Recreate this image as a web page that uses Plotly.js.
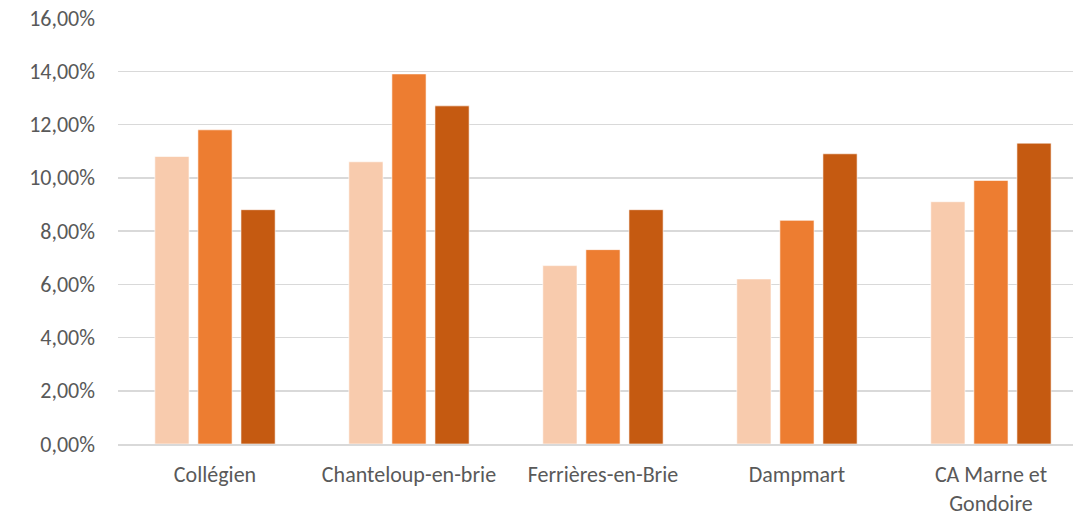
<!DOCTYPE html>
<html><head><meta charset="utf-8">
<script src="https://cdn.plot.ly/plotly-3.0.1.min.js"></script>
<style>body{margin:0;background:#fff}#c{width:1073px;height:515px}</style>
</head><body><div id="c"></div>
<script>
const categories = ["Collégien", "Chanteloup-en-brie", "Ferrières-en-Brie", "Dampmart", "CA Marne et<br>Gondoire"];
const series1 = [0.108, 0.106, 0.067, 0.062, 0.091];
const series2 = [0.118, 0.139, 0.073, 0.084, 0.099];
const series3 = [0.088, 0.127, 0.088, 0.109, 0.113];
const tickVals = [0, 0.02, 0.04, 0.06, 0.08, 0.10, 0.12, 0.14, 0.16];

const colors = ["#F8CBAD", "#ED7D31", "#C55A11"];
const data = [series1, series2, series3].map((v, i) => ({
  type: "bar", x: categories, y: v, name: "Série " + (i + 1),
  marker: {color: colors[i], line: {color: "rgba(255,255,255,0.6)", width: 1}},
  hoverinfo: "skip"
}));
const font = {family: "Carlito, 'Open Sans', 'Liberation Sans', sans-serif", size: 22, color: "#595959"};
Plotly.newPlot("c", data, {
  width: 1073, height: 515,
  margin: {l: 117.5, r: 0, t: 18, b: 70.5},
  paper_bgcolor: "#fff", plot_bgcolor: "#fff",
  showlegend: false, barmode: "group", bargap: 0.334, bargroupgap: 0.206,
  separators: ",.",
  font: font,
  xaxis: {range: [-0.5, 4.423], showgrid: false, showline: true, linecolor: "#D9D9D9", linewidth: 1.5, ticks: "",
          tickfont: font, ticklabelstandoff: 10, automargin: false},
  yaxis: {range: [0, 0.16], tickvals: tickVals, tickformat: ".2%", showgrid: true, gridcolor: "#D9D9D9", gridwidth: 1.5,
          zeroline: false, showline: false, ticks: "", ticklabelstandoff: 22, tickfont: font, automargin: false}
}, {displayModeBar: false, staticPlot: true});
</script></body></html>
